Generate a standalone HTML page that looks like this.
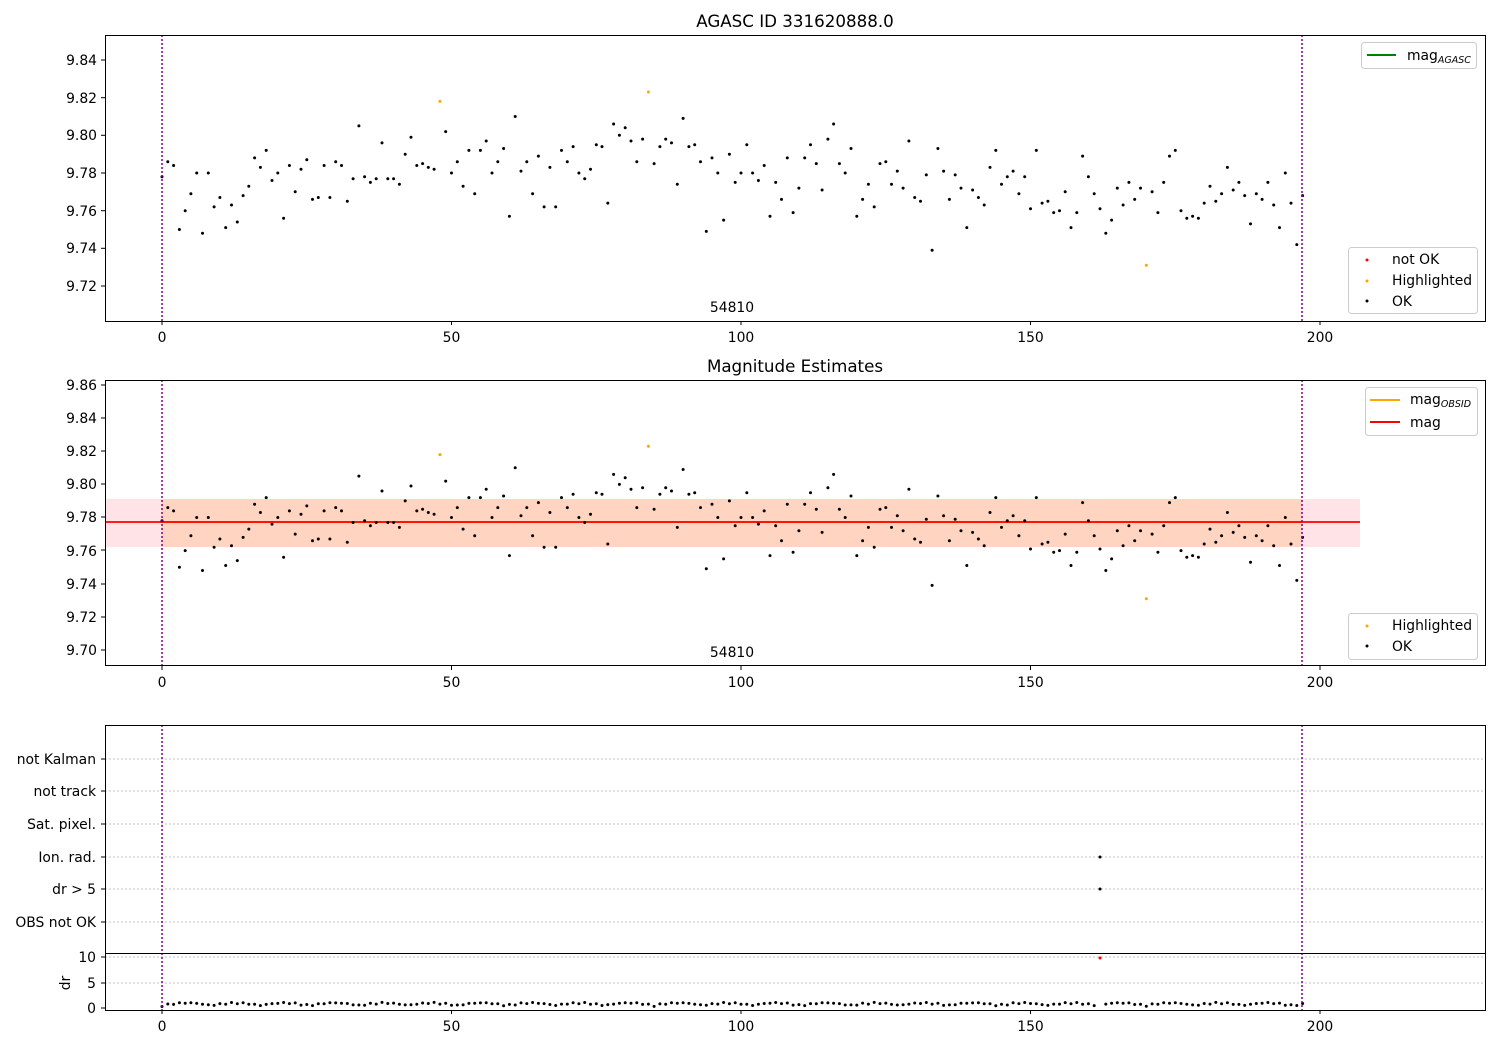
<!DOCTYPE html>
<html><head><meta charset="utf-8"><style>
html,body{margin:0;padding:0;background:#fff}
svg{display:block;font-family:"DejaVu Sans","Liberation Sans",sans-serif}
</style></head><body>
<svg id="s" width="1500" height="1050" viewBox="0 0 1500 1050" xmlns="http://www.w3.org/2000/svg">
<rect width="1500" height="1050" fill="#fff"/>
<text x="795" y="27" font-size="16.7" text-anchor="middle">AGASC ID 331620888.0</text>
<text x="795" y="372" font-size="16.7" text-anchor="middle">Magnitude Estimates</text>

<rect x="105" y="499" width="1255" height="48" fill="#ffd0d6" opacity="0.6"/>
<rect x="162" y="499" width="1140" height="48" fill="#ffc8a0" opacity="0.55"/>
<line x1="162" y1="522" x2="1302" y2="522" stroke="orange" stroke-width="2"/>
<line x1="105" y1="522" x2="1360" y2="522" stroke="red" stroke-width="1.8"/>

<g stroke="#b0b0b0" stroke-width="0.8" stroke-dasharray="2,2">
<line x1="105" y1="759" x2="1485" y2="759"/><line x1="105" y1="791" x2="1485" y2="791"/>
<line x1="105" y1="824" x2="1485" y2="824"/><line x1="105" y1="857" x2="1485" y2="857"/>
<line x1="105" y1="889" x2="1485" y2="889"/><line x1="105" y1="922" x2="1485" y2="922"/>
<line x1="105" y1="957" x2="1485" y2="957"/><line x1="105" y1="983" x2="1485" y2="983"/>
</g>

<g id="pts"></g>

<g stroke="purple" stroke-width="1.5" stroke-dasharray="2,2">
<line x1="162" y1="35" x2="162" y2="321"/><line x1="1302" y1="35" x2="1302" y2="321"/>
<line x1="162" y1="380" x2="162" y2="665"/><line x1="1302" y1="380" x2="1302" y2="665"/>
<line x1="162" y1="725" x2="162" y2="1010"/><line x1="1302" y1="725" x2="1302" y2="1010"/>
</g>

<g fill="none" stroke="#000" stroke-width="1">
<rect x="105.5" y="35.5" width="1380" height="286"/>
<rect x="105.5" y="380.5" width="1380" height="285"/>
<rect x="105.5" y="725.5" width="1380" height="285"/>
<line x1="105" y1="953.5" x2="1485" y2="953.5"/>
</g>

<text x="732" y="312" font-size="13.9" text-anchor="middle">54810</text>
<text x="732" y="657" font-size="13.9" text-anchor="middle">54810</text>

<g stroke="#000">
<line x1="162" y1="321" x2="162" y2="325"/><line x1="451.5" y1="321" x2="451.5" y2="325"/><line x1="741" y1="321" x2="741" y2="325"/><line x1="1030.5" y1="321" x2="1030.5" y2="325"/><line x1="1320" y1="321" x2="1320" y2="325"/>
<line x1="162" y1="666" x2="162" y2="670"/><line x1="451.5" y1="666" x2="451.5" y2="670"/><line x1="741" y1="666" x2="741" y2="670"/><line x1="1030.5" y1="666" x2="1030.5" y2="670"/><line x1="1320" y1="666" x2="1320" y2="670"/>
<line x1="162" y1="1010" x2="162" y2="1014"/><line x1="451.5" y1="1010" x2="451.5" y2="1014"/><line x1="741" y1="1010" x2="741" y2="1014"/><line x1="1030.5" y1="1010" x2="1030.5" y2="1014"/><line x1="1320" y1="1010" x2="1320" y2="1014"/>
</g>
<g font-size="13.9" text-anchor="middle">
<text x="162" y="342">0</text><text x="451.5" y="342">50</text><text x="741" y="342">100</text><text x="1030.5" y="342">150</text><text x="1320" y="342">200</text>
<text x="162" y="687">0</text><text x="451.5" y="687">50</text><text x="741" y="687">100</text><text x="1030.5" y="687">150</text><text x="1320" y="687">200</text>
<text x="162" y="1031">0</text><text x="451.5" y="1031">50</text><text x="741" y="1031">100</text><text x="1030.5" y="1031">150</text><text x="1320" y="1031">200</text>
</g>

<g stroke="#000" id="yt"></g>
<g font-size="13.9" text-anchor="end">
<text x="97" y="65">9.84</text><text x="97" y="103">9.82</text><text x="97" y="140">9.80</text><text x="97" y="178">9.78</text><text x="97" y="216">9.76</text><text x="97" y="253">9.74</text><text x="97" y="291">9.72</text>
<text x="97" y="390">9.86</text><text x="97" y="423">9.84</text><text x="97" y="456">9.82</text><text x="97" y="489">9.80</text><text x="97" y="522">9.78</text><text x="97" y="556">9.76</text><text x="97" y="589">9.74</text><text x="97" y="622">9.72</text><text x="97" y="655">9.70</text>
<text x="96" y="764">not Kalman</text><text x="96" y="796">not track</text><text x="96" y="829">Sat. pixel.</text><text x="96" y="862">Ion. rad.</text><text x="96" y="894">dr &gt; 5</text><text x="96" y="927">OBS not OK</text>
<text x="96" y="962">10</text><text x="96" y="988">5</text><text x="96" y="1013">0</text>
</g>
<text x="70" y="983" font-size="13.9" text-anchor="middle" transform="rotate(-90 70 983)">dr</text>

<g font-size="13.9">
<rect x="1361.5" y="42.5" width="115" height="26" rx="3" fill="#fff" stroke="#ccc"/>
<line x1="1367" y1="55" x2="1396" y2="55" stroke="green" stroke-width="2"/>
<text x="1407" y="60">mag<tspan font-size="9.5" font-style="italic" dy="3">AGASC</tspan></text>

<rect x="1348.5" y="247.5" width="129" height="66" rx="3" fill="#fff" stroke="#ccc"/>
<circle cx="1367" cy="260" r="1.5" fill="red"/><text x="1392" y="264">not OK</text>
<circle cx="1367" cy="281" r="1.5" fill="orange"/><text x="1392" y="285">Highlighted</text>
<circle cx="1367" cy="301" r="1.5" fill="#000"/><text x="1392" y="306">OK</text>

<rect x="1365.5" y="387.5" width="112" height="48" rx="3" fill="#fff" stroke="#ccc"/>
<line x1="1370" y1="400" x2="1400" y2="400" stroke="orange" stroke-width="2"/>
<text x="1410" y="404">mag<tspan font-size="9.5" font-style="italic" dy="3">OBSID</tspan></text>
<line x1="1370" y1="422" x2="1400" y2="422" stroke="red" stroke-width="2"/>
<text x="1410" y="427">mag</text>

<rect x="1348.5" y="613.5" width="129" height="46" rx="3" fill="#fff" stroke="#ccc"/>
<circle cx="1367" cy="626" r="1.5" fill="orange"/><text x="1392" y="630">Highlighted</text>
<circle cx="1367" cy="646" r="1.5" fill="#000"/><text x="1392" y="651">OK</text>
</g>
</svg>
<script>
var v=[9.778,9.786,9.784,9.750,9.760,9.769,9.780,9.748,9.780,9.762,9.767,9.751,9.763,9.754,9.768,9.773,9.788,9.783,9.792,9.776,9.780,9.756,9.784,9.770,9.782,9.787,9.766,9.767,9.784,9.767,9.786,9.784,9.765,9.777,9.805,9.778,9.775,9.777,9.796,9.777,9.777,9.774,9.790,9.799,9.784,9.785,9.783,9.782,9.818,9.802,9.780,9.786,9.773,9.792,9.769,9.792,9.797,9.780,9.786,9.793,9.757,9.810,9.781,9.786,9.769,9.789,9.762,9.783,9.762,9.792,9.786,9.794,9.780,9.777,9.782,9.795,9.794,9.764,9.806,9.800,9.804,9.797,9.786,9.798,9.823,9.785,9.794,9.798,9.796,9.774,9.809,9.794,9.795,9.786,9.749,9.788,9.780,9.755,9.790,9.775,9.780,9.795,9.780,9.776,9.784,9.757,9.775,9.766,9.788,9.759,9.772,9.788,9.795,9.785,9.771,9.798,9.806,9.785,9.780,9.793,9.757,9.766,9.774,9.762,9.785,9.786,9.774,9.781,9.772,9.797,9.767,9.765,9.779,9.739,9.793,9.781,9.766,9.779,9.772,9.751,9.771,9.767,9.763,9.783,9.792,9.774,9.778,9.781,9.769,9.778,9.761,9.792,9.764,9.765,9.759,9.760,9.770,9.751,9.759,9.789,9.778,9.769,9.761,9.748,9.755,9.772,9.763,9.775,9.766,9.772,9.731,9.770,9.759,9.775,9.789,9.792,9.760,9.756,9.757,9.756,9.764,9.773,9.765,9.769,9.783,9.771,9.775,9.768,9.753,9.769,9.766,9.775,9.763,9.751,9.780,9.764,9.742,9.768];
var hl={48:1,84:1,170:1};
var g=document.getElementById('pts'),h='';
function c(x,y,col){h+='<circle cx="'+x.toFixed(1)+'" cy="'+y.toFixed(1)+'" r="1.5" fill="'+col+'"/>';}
for(var i=0;i<v.length;i++){
 var x=162+i*5.79,col=hl[i]?'orange':'#000';
 c(x,60+(9.84-v[i])/0.02*37.67,col);
 c(x,385+(9.86-v[i])/0.02*33.125,col);
 if(i==162){c(x,958,'red');}
 else{var d=0.3+0.5*Math.abs(Math.sin(i*0.37))+0.3*Math.abs(Math.sin(i*1.7));c(x,1008-d*5.1,'#000');}
}
var x1=162+162*5.79;c(x1,857,'#000');c(x1,889,'#000');
g.innerHTML=h;
var t='',ys=[60,97.7,135.3,173,210.7,248.3,286,385,418,451,484,517,550,584,617,650,759,791,824,857,889,922,957,983,1008];
ys.forEach(function(y){t+='<line x1="101" y1="'+y+'" x2="105" y2="'+y+'"/>';});
document.getElementById('yt').innerHTML=t;
</script>
</body></html>
